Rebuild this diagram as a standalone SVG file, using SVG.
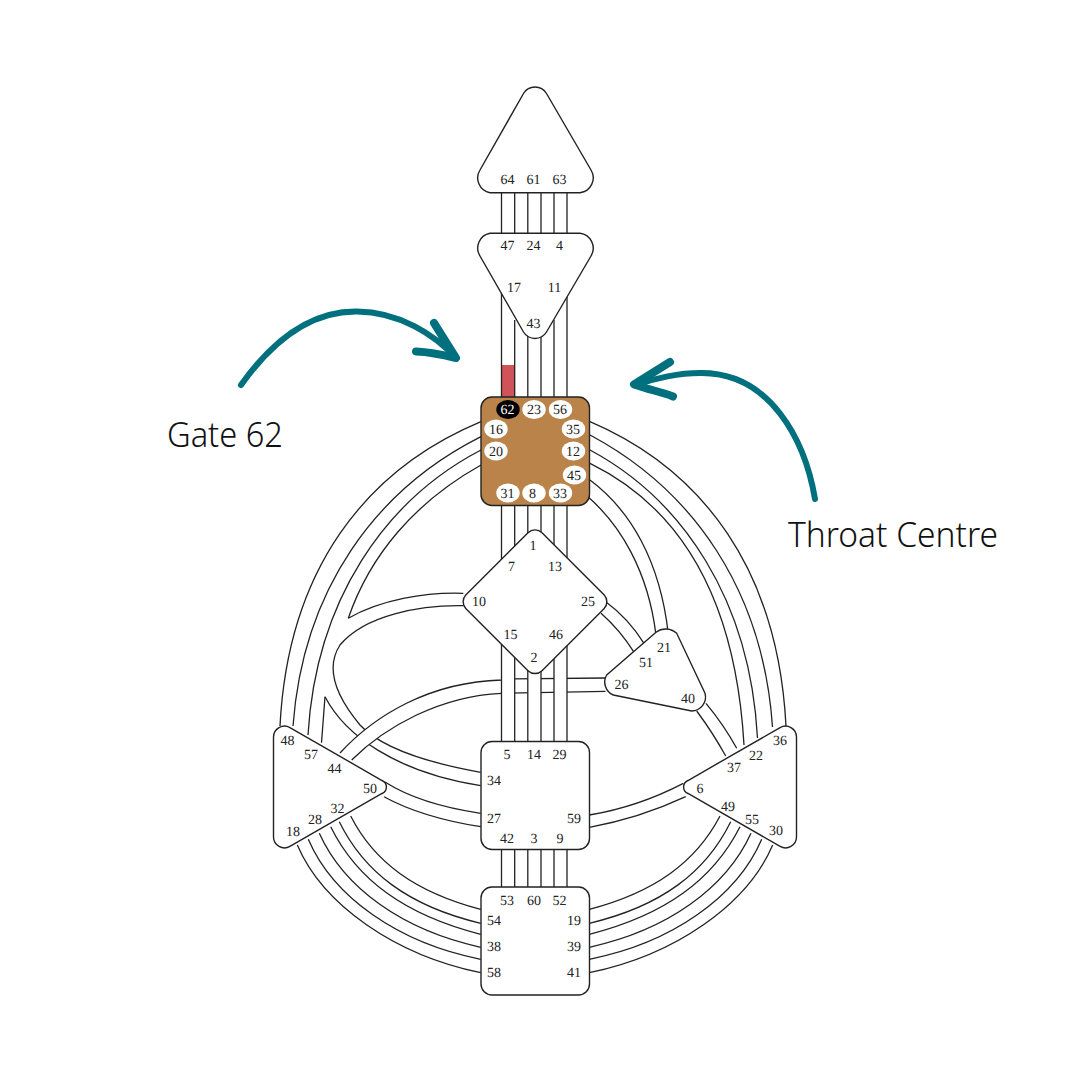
<svg xmlns="http://www.w3.org/2000/svg" width="1080" height="1080" viewBox="0 0 1080 1080">
<style>
.l{fill:none;stroke:#222;stroke-width:1.3}
.n{fill:#fff;stroke:#222;stroke-width:1.4}
.t{font-family:"Liberation Serif","Times New Roman",serif;font-size:14px;fill:#222;text-anchor:middle;text-rendering:geometricPrecision}
.a{fill:none;stroke:#00707f;stroke-linecap:round;stroke-linejoin:round}
.c{font-family:"Noto Sans",sans-serif;font-size:34px;font-weight:300;fill:#111}
.g{fill:#fff}
</style>
<rect width="1080" height="1080" fill="#fff"/>
<g id="connectors">
<path class="l" d="M501.5 192V233M514.7 192V233M527.8 192V233M541 192V233M554 192V233M567 192V233"/>
<path class="l" d="M481 421.7C365 470 288 570 280 726M481 436.7C375 490 303 590 293 726M481 450C385 500 316 600 308 735M481 465C415 502 370 555 348.3 618.3M325 696.7L321.5 742.7"/>
<path class="l" d="M590 421.7C703 470 778 570 786 726M590 435C693 490 763 590 772.5 727M590 450C683 500 750 600 757.5 738M590 463.3C675 505 735 590 744 745"/>
<path class="l" d="M590 480C630 510 660 560 668.3 634M588 496.7C620 525 648 570 656 635"/>
<path class="l" d="M605.7 601.7Q628 618 644 643.3M601 613.3Q620 630 634.3 652.7"/>
<path class="l" d="M706 703.3Q724 725 736.7 748.3M696.7 711Q713 733 725.7 756"/>
<path class="l" d="M683.3 783.3C655 798 625 809 589.3 815M685.7 796.7C655 811 625 821 589.3 827.3"/>
<path class="l" d="M385 782C410 798 445 808 480.7 813.3M384 796.7C410 811 445 821 480.7 826.7"/>
<path class="l" d="M463.3 593.3C425 592 380 600 348.3 618.3"/>
<path class="l" d="M463.3 605.7C420 605 365 615 340 645C325 668 335 695 360 725C385 752 440 765 480.7 772.3"/>
<path class="l" d="M325 696.7C345 735 395 772 480.7 785.7"/>
<path class="g" d="M340 753C375 715 430 682 501.5 680L514.7 678.8L605.5 678V691.3L501.5 693.3C440 696 385 727 351.7 760Z"/>
<path class="l" d="M340 753C375 715 430 682 501.5 680L514.7 678.8L605.5 678M351.7 760C385 727 440 696 501.5 693.3L605.5 691.3"/>
<path class="g" d="M501.5 505H514.7V741H501.5ZM527.8 505H541V741H527.8ZM554 505H567V741H554Z"/>
<path class="l" d="M501.5 505V741M514.7 505V741M527.8 505V741M541 505V741M554 505V741M567 505V741"/>
<rect x="501.5" y="365" width="13.2" height="32" fill="#cf5358"/>
<path class="l" d="M501.5 290V397M514.7 320V397M527.8 330V397M541 330V397M554 320V397M567 290V397"/>
<path class="l" d="M501.5 850V887M514.7 850V887M527.8 850V887M541 850V887M554 850V887M567 850V887"/>
<path class="l" d="M350.7 816C374 862 415 892 480.7 909.3M339.3 821.7C364 872 408 906 480.7 923.3M330.7 826.7C357 880 405 915 480.7 934.3M319.3 833.3C344 888 402 930 480.7 947.3M308.3 839.3C333 897 398 943 480.7 959.3M297.3 845C323 905 395 955 480.7 972.7"/>
<path class="l" d="M720 816C696 862 655 892 589.3 909.3M730.7 821.7C706 872 662 906 589.3 923.3M740 826.7C713 880 665 915 589.3 934.3M751 833.3C726 888 668 930 589.3 947.3M761.7 839.3C737 897 672 943 589.3 959.3M772.7 845C747 905 675 955 589.3 972.7"/>
</g>
<g id="head">
<path class="n" d="M490 192.7A15 15 0 0 1 480 170L523.5 93.5A13.5 13.5 0 0 1 546.5 93.5L591 170A15 15 0 0 1 580 192.7Z"/>
<text class="t" x="507.5" y="184">64</text><text class="t" x="533.5" y="184">61</text><text class="t" x="559.5" y="184">63</text>
</g>
<g id="ajna">
<path class="n" d="M490 233.3A15 15 0 0 0 480 256L523.5 332A13.5 13.5 0 0 0 546.5 332L591 256A15 15 0 0 0 580 233.3Z"/>
<text class="t" x="507.5" y="250">47</text><text class="t" x="533.5" y="250">24</text><text class="t" x="559.5" y="250">4</text>
<text class="t" x="514" y="292">17</text><text class="t" x="554.5" y="292">11</text><text class="t" x="533.5" y="328">43</text>
</g>
<g id="throat">
<rect x="481" y="397" width="108.5" height="108.5" rx="11" fill="#b9834a" stroke="#222" stroke-width="1.4"/>
<ellipse cx="508" cy="409.5" rx="11.7" ry="9.5" fill="#000"/>
<g fill="#fff">
<ellipse cx="534" cy="409.5" rx="11.7" ry="9.5"/><ellipse cx="560.5" cy="409.5" rx="11.7" ry="9.5"/>
<ellipse cx="496" cy="429" rx="11.7" ry="9.5"/><ellipse cx="573.5" cy="429" rx="11.7" ry="9.5"/>
<ellipse cx="496" cy="451" rx="11.7" ry="9.5"/><ellipse cx="573.5" cy="451" rx="11.7" ry="9.5"/>
<ellipse cx="574.5" cy="475" rx="11.7" ry="9.5"/>
<ellipse cx="508" cy="493" rx="11.7" ry="9.5"/><ellipse cx="534" cy="493" rx="11.7" ry="9.5"/><ellipse cx="560.5" cy="493" rx="11.7" ry="9.5"/>
</g>
<text class="t" x="507.5" y="414" style="fill:#fff">62</text><text class="t" x="534" y="414">23</text><text class="t" x="560" y="414">56</text>
<text class="t" x="496" y="434">16</text><text class="t" x="573" y="434">35</text>
<text class="t" x="496" y="456">20</text><text class="t" x="573" y="456">12</text>
<text class="t" x="574" y="480">45</text>
<text class="t" x="507.5" y="498">31</text><text class="t" x="532.5" y="498">8</text><text class="t" x="560" y="498">33</text>
</g>
<g id="g-centre">
<path class="n" d="M466 594.7L528 532.7A10 10 0 0 1 542 532.7L604 594.7A10 10 0 0 1 604 608.7L542 670.7A10 10 0 0 1 528 670.7L466 608.7A10 10 0 0 1 466 594.7Z"/>
<text class="t" x="533" y="550">1</text><text class="t" x="511.5" y="571">7</text><text class="t" x="555" y="571">13</text>
<text class="t" x="479" y="605.5">10</text><text class="t" x="588" y="605.5">25</text>
<text class="t" x="510.5" y="639">15</text><text class="t" x="556" y="639">46</text><text class="t" x="534" y="662">2</text>
</g>
<g id="ego">
<path class="n" d="M656 632.3A16 16 0 0 1 676.7 633.3L705 693.3A14 14 0 0 1 691.7 711L613.3 695A14 14 0 0 1 606.7 675Z"/>
<text class="t" x="664" y="651.5">21</text><text class="t" x="646" y="666.5">51</text><text class="t" x="621.5" y="688.5">26</text><text class="t" x="688" y="702.5">40</text>
</g>
<g id="sacral">
<rect class="n" x="481" y="741.5" width="108.5" height="108" rx="11"/>
<text class="t" x="507" y="759">5</text><text class="t" x="534" y="759">14</text><text class="t" x="559.5" y="759">29</text>
<text class="t" x="494" y="785">34</text><text class="t" x="494" y="823">27</text><text class="t" x="574" y="823">59</text>
<text class="t" x="507" y="842.5">42</text><text class="t" x="534" y="843">3</text><text class="t" x="560" y="842.5">9</text>
</g>
<g id="root">
<rect class="n" x="481" y="887" width="108.5" height="108" rx="11"/>
<text class="t" x="507" y="905">53</text><text class="t" x="534" y="905">60</text><text class="t" x="559.5" y="905">52</text>
<text class="t" x="494" y="925">54</text><text class="t" x="574" y="925">19</text>
<text class="t" x="494" y="951">38</text><text class="t" x="574" y="951">39</text>
<text class="t" x="494" y="977">58</text><text class="t" x="574" y="977">41</text>
</g>
<g id="spleen">
<path class="n" d="M273.5 737A11 11 0 0 1 289.9 727.6L382 780.5A7 7 0 0 1 382 793.5L289.9 846.4A11 11 0 0 1 273.5 837Z"/>
<text class="t" x="287.5" y="745">48</text><text class="t" x="311" y="759">57</text><text class="t" x="334.5" y="773">44</text><text class="t" x="370" y="793">50</text>
<text class="t" x="337.5" y="813">32</text><text class="t" x="315" y="824">28</text><text class="t" x="293" y="836">18</text>
</g>
<g id="solar-plexus">
<path class="n" d="M796.5 737A11 11 0 0 0 780.1 727.6L688 780.5A7 7 0 0 0 688 793.5L780.1 846.4A11 11 0 0 0 796.5 837Z"/>
<text class="t" x="780" y="745">36</text><text class="t" x="756" y="760">22</text><text class="t" x="734" y="772">37</text><text class="t" x="700" y="793">6</text>
<text class="t" x="728" y="811">49</text><text class="t" x="752" y="824">55</text><text class="t" x="776" y="835">30</text>
</g>
<g id="callouts">
<path class="a" stroke-width="6" d="M241 385C280 330 320 311 357 311.5C400 312 435 335 456 358"/>
<path class="a" stroke-width="8" d="M434 323L456 358C440 354 430 352 416 351.5"/>
<path class="a" stroke-width="6" d="M815 499C805 440 770 372 700 373C680 373 655 378 636 385"/>
<path class="a" stroke-width="8" d="M670 362L634 384.5C650 390 662 392 673 396.5"/>
<text class="c" x="167" y="446.5" textLength="116" lengthAdjust="spacingAndGlyphs">Gate 62</text>
<text class="c" x="788" y="547" textLength="210" lengthAdjust="spacingAndGlyphs">Throat Centre</text>
</g>
</svg>
